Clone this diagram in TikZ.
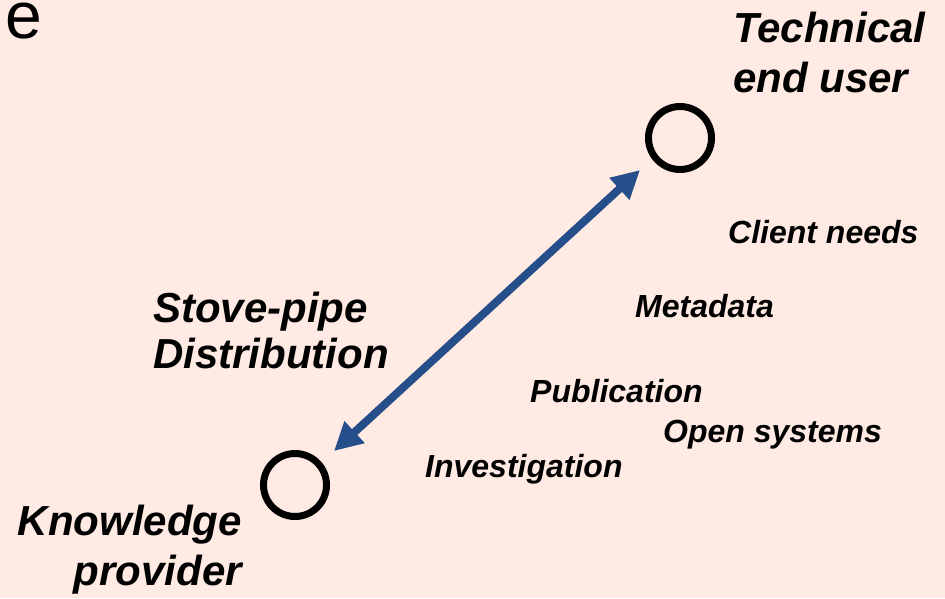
\documentclass[tikz,border=0pt]{standalone}
\usepackage{fontspec}
\setmainfont{Liberation Sans}
\usetikzlibrary{arrows.meta}
\definecolor{bgpink}{RGB}{255,235,227}
\definecolor{arrowblue}{RGB}{38,78,138}
\tikzset{
  lbl/.style={inner sep=0pt, anchor=base west, font=\fontsize{42}{48}\selectfont\bfseries\itshape},
  lblr/.style={lbl, anchor=base east},
  sml/.style={inner sep=0pt, anchor=base west, font=\fontsize{32}{38}\selectfont\bfseries\itshape},
  ring/.style={circle, draw=black, line width=7pt, minimum size=63pt, inner sep=0pt},
  bigarrow/.style={arrowblue, line width=8pt, {Triangle[width=28pt,length=28pt]}-{Triangle[width=28pt,length=28pt]}}
}
\begin{document}
\begin{tikzpicture}[x=1pt,y=-1pt]
\fill[bgpink] (0,0) rectangle (945,598);
\useasboundingbox (0,0) rectangle (945,598);
\node[inner sep=0pt, anchor=base west, font=\fontsize{66}{72}\selectfont] (e) at (5,38) {e};
\node[ring] (top) at (680,138) {};
\node[ring] (bot) at (295,485) {};
\coordinate (atop) at (640,170);
\coordinate (abot) at (334,451);
\draw[bigarrow] (abot) -- (atop);
\node[lbl] (tech1) at (733,42) {Technical};
\node[lbl] (tech2) at (733,92) {end user};
\node[lbl] (stove1) at (153,322) {Stove-pipe};
\node[lbl] (stove2) at (153,368) {Distribution};
\node[lblr] (know1) at (242,535) {Knowledge};
\node[lblr] (know2) at (242,585) {provider};
\node[sml] (client) at (728,243) {Client needs};
\node[sml] (meta) at (635,317) {Metadata};
\node[sml] (pub) at (530,402) {Publication};
\node[sml] (open) at (663,442) {Open systems};
\node[sml] (inv) at (425,477) {Investigation};
\end{tikzpicture}
\end{document}
